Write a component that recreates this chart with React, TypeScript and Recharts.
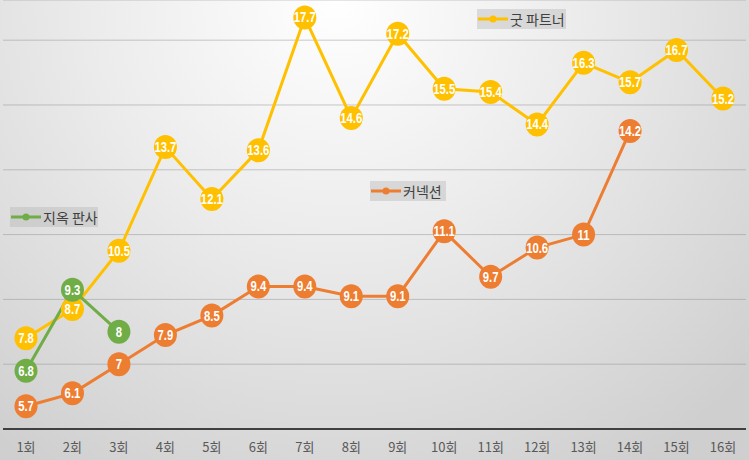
import React from 'react';
import { LineChart, Line, XAxis, YAxis, CartesianGrid } from 'recharts';

const categories = ['1회','2회','3회','4회','5회','6회','7회','8회','9회','10회','11회','12회','13회','14회','15회','16회'];
const goodPartner = [7.8, 8.7, 10.5, 13.7, 12.1, 13.6, 17.7, 14.6, 17.2, 15.5, 15.4, 14.4, 16.3, 15.7, 16.7, 15.2];
const connection = [5.7, 6.1, 7, 7.9, 8.5, 9.4, 9.4, 9.1, 9.1, 11.1, 9.7, 10.6, 11, 14.2, null, null];
const hellJudge = [6.8, 9.3, 8, null, null, null, null, null, null, null, null, null, null, null, null, null];
const yTicks = [5, 7, 9, 11, 13, 15, 17];

const data = categories.map((c, i) => ({ name: c, gp: goodPartner[i], cn: connection[i], hj: hellJudge[i] }));

const COLORS = { gp: '#FFC000', cn: '#ED7D31', hj: '#70AD47' };

const makeDot = (color: string) => (props: any) => {
  const { cx, cy, value, index } = props;
  if (value == null || cx == null || cy == null) return <g key={index} />;
  return (
    <g key={index}>
      <ellipse cx={cx} cy={cy} rx={11.5} ry={12} fill={color} />
      <g transform={`translate(${cx},${cy}) scale(0.78,1)`}>
        <text x={0} y={5} textAnchor="middle" fill="#ffffff" fontSize={14.5} fontWeight="bold"
          fontFamily="'Liberation Sans', Arial, sans-serif">{value}</text>
      </g>
    </g>
  );
};

const Tick = (props: any) => {
  const { x, payload } = props;
  return (
    <text x={x} y={452} textAnchor="middle" fill="#595959" fontSize={13}
      fontFamily="'Noto Sans CJK KR', sans-serif">{payload.value}</text>
  );
};

const LegendBox = ({ left, top, width, color, label }: any) => (
  <div style={{ position: 'absolute', left, top, width, height: 20, background: 'rgba(180,180,180,0.4)',
    display: 'flex', alignItems: 'center', fontFamily: "'Noto Sans CJK KR', sans-serif", fontSize: 14, color: '#404040' }}>
    <svg width={32} height={20} style={{ flex: 'none' }}>
      <line x1={1} y1={10} x2={31} y2={10} stroke={color} strokeWidth={3} />
      <circle cx={16} cy={10} r={3.5} fill={color} />
    </svg>
    <span style={{ marginLeft: 1, whiteSpace: 'nowrap' }}>{label}</span>
  </div>
);

export default function App() {
  return (
    <div style={{ position: 'absolute', left: 0, top: 0, width: 749, height: 460, overflow: 'hidden',
      background: 'radial-gradient(ellipse 75% 120% at 45% 0%, #ffffff 0%, #ebebeb 45%, #cfcfcf 100%)' }}>
      <LineChart width={749} height={460} data={data} margin={{ top: 0, right: 3, bottom: 0, left: 3 }}>
        <CartesianGrid vertical={false} stroke="#8c8c8c" strokeOpacity={0.45} strokeWidth={1} />
        <XAxis dataKey="name" scale="point" padding={{ left: 23, right: 23 }} height={31}
          axisLine={{ stroke: '#404040', strokeWidth: 2 }} tickLine={false} tick={<Tick />} interval={0} />
        <YAxis hide domain={[5, 18.24]} ticks={yTicks} allowDataOverflow />
        <Line dataKey="gp" stroke={COLORS.gp} strokeWidth={3} isAnimationActive={false} dot={makeDot(COLORS.gp)} activeDot={false} connectNulls={false} />
        <Line dataKey="cn" stroke={COLORS.cn} strokeWidth={3} isAnimationActive={false} dot={makeDot(COLORS.cn)} activeDot={false} connectNulls={false} />
        <Line dataKey="hj" stroke={COLORS.hj} strokeWidth={3} isAnimationActive={false} dot={makeDot(COLORS.hj)} activeDot={false} connectNulls={false} />
      </LineChart>
      <LegendBox left={477} top={9} width={89} color={COLORS.gp} label="굿 파트너" />
      <LegendBox left={370} top={181} width={76} color={COLORS.cn} label="커넥션" />
      <LegendBox left={10} top={207} width={88} color={COLORS.hj} label="지옥 판사" />
    </div>
  );
}
